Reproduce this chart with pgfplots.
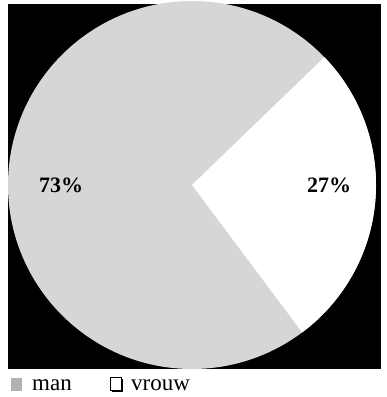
\documentclass[border=0pt]{standalone}
\usepackage{fontspec}
\setmainfont{Liberation Serif}
\usepackage{pgfplots}
\usepackage{pgfplotstable}
\pgfplotsset{compat=1.18}
\pgfplotstableread{
label value
man 73
vrouw 27
}\piedata
\definecolor{piegrey}{gray}{0.84}
\begin{document}
\begin{tikzpicture}
\pgfplotstablegetelem{0}{value}\of\piedata \let\vman\pgfplotsretval
\pgfplotstablegetelem{1}{value}\of\piedata \let\vvrouw\pgfplotsretval
\pgfmathsetmacro\sweep{360*\vvrouw/(\vman+\vvrouw)}
\pgfmathsetmacro\startang{44}
\pgfmathsetmacro\endang{\startang-\sweep}
\begin{axis}[x=1pt,y=1pt,xmin=0,xmax=384,ymin=0,ymax=397,hide axis,disabledatascaling,clip=false]
\path (axis cs:0,0) rectangle (axis cs:384,397);
\fill[black] (axis cs:8,28) rectangle (axis cs:381,393);
\fill[piegrey] (axis cs:192,212) circle[radius=184pt];
\fill[white] (axis cs:192,212) -- ++(\startang:184pt) arc[start angle=\startang, end angle=\endang, radius=184pt] -- cycle;
\node[font=\fontsize{22}{24}\selectfont\bfseries] at (axis cs:61,212) {\vman\%};
\node[font=\fontsize{22}{24}\selectfont\bfseries] at (axis cs:329,212) {\vvrouw\%};
% legend
\fill[gray!60] (axis cs:11,6) rectangle (axis cs:22,19);
\node[anchor=base west,font=\fontsize{23}{26}\selectfont,inner sep=0pt] at (axis cs:32,6) {man};
\fill[black] (axis cs:112,5) rectangle (axis cs:123,18);
\fill[white,draw=black,line width=0.8pt] (axis cs:110,7) rectangle (axis cs:121,20);
\node[anchor=base west,font=\fontsize{23}{26}\selectfont,inner sep=0pt] at (axis cs:131,6) {vrouw};
\end{axis}
\end{tikzpicture}
\end{document}
